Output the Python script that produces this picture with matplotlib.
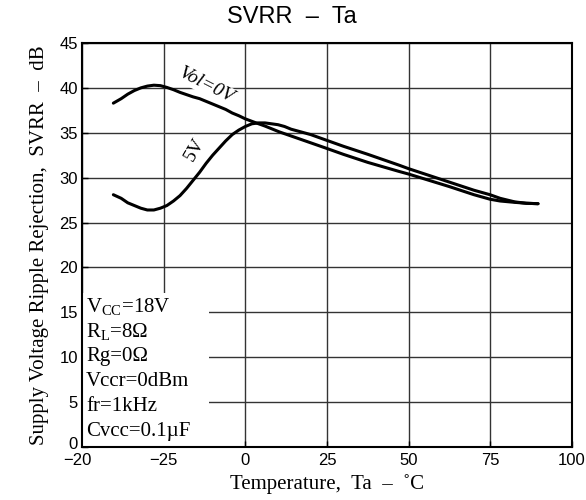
import matplotlib
matplotlib.use("Agg")
import matplotlib.pyplot as plt
import matplotlib.transforms as mtransforms
from matplotlib.patches import Rectangle

# temperature (x) positions, axis runs -50..100 but first tick is printed "-20"
x_ticks = [-50, -25, 0, 25, 50, 75, 100]
x_tick_labels = ["\u221220", "\u221225", "0", "25", "50", "75", "100"]
y_ticks = [0, 5, 10, 15, 20, 25, 30, 35, 40, 45]

# Vol = 0V curve
ta_0v = [-40.4, -38, -36, -34, -32, -30, -28, -26, -24, -22, -20, -18, -16,
         -14, -12, -10, -8, -6, -4, -2, 0, 3.3, 6, 10.4, 17.5, 24.6, 30.0,
         37.5, 47.0, 50.0, 62.5, 70.0, 74.9, 78.0, 82.5, 86.0, 89.6]
svrr_0v = [38.3, 38.8, 39.3, 39.7, 40.0, 40.2, 40.3, 40.25, 40.05, 39.8, 39.5,
           39.25, 39.0, 38.8, 38.5, 38.2, 37.9, 37.6, 37.2, 36.9, 36.55, 36.1,
           35.75, 35.1, 34.2, 33.3, 32.6, 31.7, 30.7, 30.4, 29.0, 28.1, 27.6,
           27.4, 27.25, 27.15, 27.1]

# Vol = 5V curve
ta_5v = [-40.4, -38, -36, -34, -32, -30, -28, -26, -24, -22, -20, -18, -16,
         -14, -12, -10, -8, -6, -4, -2, 0, 2, 4, 6, 8, 10, 12, 14, 17, 20,
         24.6, 30.0, 37.5, 47.0, 50.0, 62.5, 70.0, 74.9, 78.0, 82.5, 86.0, 89.6]
svrr_5v = [28.1, 27.7, 27.2, 26.9, 26.6, 26.4, 26.4, 26.6, 26.9, 27.4, 28.0,
           28.8, 29.7, 30.6, 31.6, 32.5, 33.3, 34.1, 34.8, 35.3, 35.7, 36.0,
           36.1, 36.1, 36.0, 35.9, 35.7, 35.4, 35.1, 34.8, 34.2, 33.5, 32.6,
           31.4, 31.0, 29.5, 28.6, 28.1, 27.7, 27.3, 27.15, 27.1]

conditions = ["V$_{\\mathrm{CC}}$=18V", "R$_{\\mathrm{L}}$=8\u03a9", "Rg=0\u03a9",
              "Vccr=0dBm", "fr=1kHz", "Cvcc=0.1\u00b5F"]

plt.rcParams["mathtext.fontset"] = "custom"
plt.rcParams["mathtext.rm"] = "Liberation Serif"
plt.rcParams["mathtext.it"] = "Liberation Serif:italic"

serif = "Liberation Serif"
sans = "Liberation Sans"

fig = plt.figure(figsize=(5.86, 5.00), dpi=100)
ax = fig.add_axes([82 / 586, 1 - 447 / 500, 490 / 586, 404 / 500])

ax.set_xlim(-50, 100)
ax.set_ylim(0, 45)
ax.set_xticks(x_ticks)
ax.set_xticklabels(x_tick_labels, fontfamily=sans, fontsize=12)
ax.set_yticks(y_ticks)
ax.set_yticklabels([str(v) for v in y_ticks], fontfamily=sans, fontsize=12)
ax.tick_params(direction="in", length=4, width=1, pad=3)
ax.tick_params(axis="x", pad=4)

# nudge the two corner labels apart, as in the original
ax.get_yticklabels()[0].set_transform(
    ax.get_yticklabels()[0].get_transform()
    + mtransforms.ScaledTranslation(0, 4 / 100, fig.dpi_scale_trans))
ax.get_xticklabels()[0].set_transform(
    ax.get_xticklabels()[0].get_transform()
    + mtransforms.ScaledTranslation(-5 / 100, 0, fig.dpi_scale_trans))

ax.grid(True, color="#333333", linewidth=1.0)
for s in ax.spines.values():
    s.set_linewidth(1.5)

# blank area behind the condition text
ax.add_patch(Rectangle((-50, 0), 39, 17.2, facecolor="white", edgecolor="none", zorder=2))

for xs, ys in ((ta_0v, svrr_0v), (ta_5v, svrr_5v)):
    ax.plot(xs, ys, color="black", linewidth=2.2, zorder=3,
            solid_capstyle="round", solid_joinstyle="round")

ax.text(-12, 40.3, "Vol=0V", family=serif, style="italic", fontsize=14,
        rotation=-27, ha="center", va="center", zorder=4,
        bbox=dict(facecolor="white", edgecolor="none", pad=0.5))
ax.text(-15.5, 33.1, "5V", family=serif, fontsize=14, rotation=60,
        ha="center", va="center", zorder=4,
        bbox=dict(facecolor="white", edgecolor="none", pad=0.5))

for i, t in enumerate(conditions):
    ax.text(-48.8, 15.6 - i * 2.78, t, family=serif, fontsize=15,
            ha="left", va="center", zorder=4)

ax.set_xlabel("Temperature,  Ta  \u2013  \u02daC", family=serif, fontsize=15, labelpad=5)
ax.set_ylabel("Supply Voltage Ripple Rejection,  SVRR  \u2013  dB", family=serif,
              fontsize=15, labelpad=7)
fig.text(292 / 586, 1 - 17 / 500, "SVRR  \u2013  Ta", family=sans, fontsize=17,
         ha="center", va="center")

fig.savefig("out.png", dpi=100)
